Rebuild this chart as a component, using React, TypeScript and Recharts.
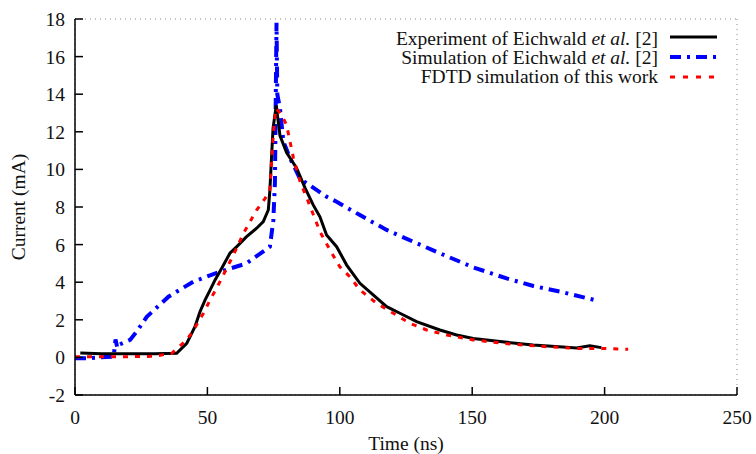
import React from "react";
import { LineChart, Line, XAxis, YAxis, CartesianGrid, Legend } from "recharts";

const FONT = '"Liberation Serif", "Times New Roman", serif';
const FS = 19.5;

// Experiment of Eichwald et al. [2]
const expTime = [2, 10, 20, 30, 38.4, 42.2, 45.3, 47.2, 49.1, 51, 52.9, 55.4, 58.5, 61.1, 64.8, 68.6, 71.1, 73, 73.6, 74.2, 74.8, 76, 77.4, 79.9, 83.7, 86.9, 90, 92.5, 95, 98.8, 102.6, 107.6, 112.6, 117.7, 122.7, 129, 137.8, 144.1, 150.4, 160.5, 173, 185.6, 189.4, 194.4, 198.8];
const expCurrent = [0.23, 0.2, 0.2, 0.2, 0.22, 0.75, 1.63, 2.43, 3.05, 3.58, 4.12, 4.74, 5.54, 5.89, 6.42, 6.87, 7.22, 7.84, 8.9, 10.6, 12.2, 13.4, 11.8, 10.9, 10.06, 9.0, 8.1, 7.48, 6.51, 5.89, 4.91, 3.94, 3.32, 2.7, 2.35, 1.9, 1.46, 1.19, 1.01, 0.84, 0.66, 0.54, 0.5, 0.62, 0.52];

// Simulation of Eichwald et al. [2]
const simTime = [0, 5, 13.8, 14.6, 15.3, 16, 17, 20.8, 23.3, 27.1, 35.3, 44.7, 54.8, 64.8, 73.6, 74.9, 75.5, 76.1, 76.4, 77.4, 78.7, 81.2, 85, 89.4, 95, 98.8, 107.6, 117.7, 127.8, 137.8, 150.4, 163, 173.1, 183.1, 196.4];
const simCurrent = [-0.05, -0.04, 0.04, 0.05, 0.95, 0.5, 0.7, 0.93, 1.37, 2.16, 3.23, 4.03, 4.56, 5.0, 5.89, 7.3, 9.3, 17.8, 14.0, 13.25, 11.47, 10.6, 9.5, 9.08, 8.55, 8.28, 7.57, 6.78, 6.15, 5.54, 4.79, 4.2, 3.8, 3.5, 3.05];

// FDTD simulation of this work
const fdtdTime = [0, 10, 20, 30, 36.5, 41.5, 44, 48.5, 51, 54.1, 57.3, 60, 63.6, 68.6, 71.8, 73.6, 74.5, 75.2, 76, 78, 79.9, 82.5, 85, 88.1, 92.5, 96.3, 100, 103.8, 107.6, 113.9, 120.2, 126.5, 132.8, 140.4, 150.4, 164.3, 178.2, 189.4, 199.5, 208.9];
const fdtdCurrent = [0.04, 0.03, 0.04, 0.06, 0.22, 0.84, 1.28, 2.35, 3.05, 3.85, 4.74, 5.5, 6.6, 7.84, 8.46, 8.9, 11, 12.5, 13.25, 12.9, 12.36, 10.6, 9.35, 8.28, 6.69, 5.71, 4.82, 4.29, 3.59, 2.88, 2.35, 1.81, 1.46, 1.19, 0.93, 0.71, 0.57, 0.48, 0.48, 0.43];

const xTicks = [0, 50, 100, 150, 200, 250];
const yTicks = [-2, 0, 2, 4, 6, 8, 10, 12, 14, 16, 18];

const toPoints = (xs: number[], ys: number[]) => xs.map((x, i) => ({ x, y: ys[i] }));

const expData = toPoints(expTime, expCurrent);
const simData = toPoints(simTime, simCurrent);
const fdtdData = toPoints(fdtdTime, fdtdCurrent);

const tickStyle = { fill: "#111", fontSize: FS, fontFamily: FONT };

function KeyBox() {
  const rows = [
    { label: "Experiment of Eichwald ", tail: " [2]", italic: true, stroke: "#000", dash: undefined, width: 3 },
    { label: "Simulation of Eichwald ", tail: " [2]", italic: true, stroke: "#0000ff", dash: "11 6 3 6", width: 4 },
    { label: "FDTD simulation of this work", tail: "", italic: false, stroke: "#ff0000", dash: "5 8", width: 3 },
  ];
  return (
    <svg width={398} height={63} style={{ display: "block", background: "#fff" }}>
      {rows.map((r, i) => (
        <g key={i}>
          <text x={328} y={18 + i * 19} textAnchor="end" fontSize={FS} fontFamily={FONT} fill="#111">
            {r.label}
            {r.italic && <tspan fontStyle="italic">et al.</tspan>}
            {r.tail}
          </text>
          <line x1={340} x2={387} y1={10 + i * 20} y2={10 + i * 20} stroke={r.stroke} strokeWidth={r.width} strokeDasharray={r.dash} />
        </g>
      ))}
    </svg>
  );
}

export default function App() {
  return (
    <div style={{ position: "absolute", left: 0, top: 0 }}>
      <LineChart width={756} height={454} margin={{ top: 19, right: 19, left: 0, bottom: 0 }} style={{ fontFamily: FONT }}>
        <CartesianGrid stroke="#888" strokeDasharray="1 4" strokeWidth={1} />
        <XAxis
          xAxisId="b"
          type="number"
          dataKey="x"
          domain={[0, 250]}
          ticks={xTicks}
          height={59}
          tickSize={-8}
          tickMargin={23}
          tick={tickStyle}
          fontSize={FS}
          stroke="#000"
          strokeWidth={1.5}
          label={{ value: "Time (ns)", position: "insideBottom", offset: 4, fill: "#111", fontSize: FS, fontFamily: FONT }}
        />
        <XAxis
          xAxisId="t"
          orientation="top"
          type="number"
          dataKey="x"
          domain={[0, 250]}
          ticks={xTicks}
          height={0}
          tickSize={-8}
          tickFormatter={() => ""}
          stroke="#000"
          strokeWidth={1.5}
        />
        <YAxis
          yAxisId="l"
          type="number"
          domain={[-2, 18]}
          ticks={yTicks}
          width={75}
          tickSize={-8}
          tickMargin={18}
          tick={tickStyle}
          fontSize={FS}
          stroke="#000"
          strokeWidth={1.5}
          label={{
            content: () => (
              <text x={25} y={207} transform="rotate(-90 25 207)" textAnchor="middle" fontSize={FS} fontFamily={FONT} fill="#111">
                Current (mA)
              </text>
            ),
          }}
        />
        <YAxis
          yAxisId="r"
          orientation="right"
          type="number"
          domain={[-2, 18]}
          ticks={yTicks}
          width={0}
          tickSize={-8}
          tickFormatter={() => ""}
          stroke="#000"
          strokeWidth={1.5}
        />
        <Legend
          layout="horizontal"
          verticalAlign="middle"
          content={() => <KeyBox />}
          wrapperStyle={{ position: "absolute", left: 330, top: 27, width: 398, height: 63 }}
        />
        <Line xAxisId="b" yAxisId="l" data={simData} dataKey="y" type="linear" stroke="#0000ff" strokeWidth={4} strokeDasharray="11 6 3 6" dot={false} isAnimationActive={false} />
        <Line xAxisId="b" yAxisId="l" data={expData} dataKey="y" type="linear" stroke="#000" strokeWidth={3} dot={false} isAnimationActive={false} />
        <Line xAxisId="b" yAxisId="l" data={fdtdData} dataKey="y" type="linear" stroke="#ff0000" strokeWidth={3} strokeDasharray="5 7" dot={false} isAnimationActive={false} />
      </LineChart>
    </div>
  );
}
